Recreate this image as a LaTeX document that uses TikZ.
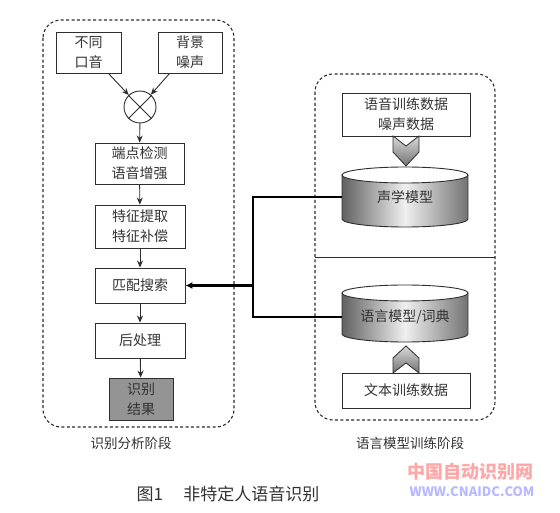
\documentclass[tikz,border=0pt]{standalone}
\usepackage{fontspec}
\setmainfont{Noto Sans CJK SC}
\usetikzlibrary{arrows.meta}
\definecolor{txt}{HTML}{333333}
\definecolor{edge}{HTML}{2E2E2E}
\tikzset{
  box/.style={draw=edge, line width=0.9pt, fill=white, align=center, inner sep=0pt,
    text=txt, font=\fontsize{14}{20}\selectfont},
  arr/.style={draw=edge, line width=0.9pt, -{Stealth[length=7pt,width=6pt]}},
  frame/.style={draw=edge, line width=1.1pt, dash pattern=on 3pt off 2.4pt, rounded corners=18pt},
  bus/.style={draw=black, line width=2.6pt},
  lab/.style={text=txt, font=\fontsize{13.5}{16}\selectfont, inner sep=0pt},
  cylbody/.style={left color=black!62, right color=black!55, middle color=black!6},
  chev/.style={draw=edge, line width=0.8pt, top color=black!15, bottom color=black!55},
  anchorbox/.style={inner sep=0pt, text=txt, font=\fontsize{14}{16}\selectfont}
}
\begin{document}
\begin{tikzpicture}[x=1pt,y=-1pt]
\useasboundingbox[fill=white] (0,0) rectangle (560,513);

% frames
\draw[frame] (43,20) rectangle (234,427);
\draw[frame] (315,74) rectangle (495,420);
\coordinate (sepL) at (315,258);
\coordinate (sepR) at (495,258);
\draw[edge, line width=1pt] (sepL) -- (sepR);

% left column
\node[box, minimum width=65pt, minimum height=41pt] (kou) at (88.5,52.5) {不同\\口音};
\node[box, minimum width=64pt, minimum height=41pt] (zao) at (190,52.5) {背景\\噪声};
\node[draw=edge, line width=0.9pt, circle, minimum size=32pt, inner sep=0pt] (mix) at (140,107) {};
\draw[edge, line width=0.9pt] (mix.north east) -- (mix.south west) (mix.north west) -- (mix.south east);
\node[box, minimum width=89pt, minimum height=41pt] (dd) at (139.5,163.5) {端点检测\\语音增强};
\node[box, minimum width=90pt, minimum height=43pt] (tz) at (140,226.5) {特征提取\\特征补偿};
\node[box, minimum width=90pt, minimum height=35pt] (pp) at (140,285.5) {匹配搜索};
\node[box, minimum width=90pt, minimum height=35pt] (hc) at (140,340.5) {后处理};
\node[box, fill=black!42, minimum width=64pt, minimum height=42pt] (jg) at (141,399) {识别\\结果};

\draw[arr] ([xshift=-13pt]kou.south east) -- (mix);
\draw[arr] ([xshift=12pt]zao.south west) -- (mix);
\draw[arr] (mix) -- (dd);
\draw[arr] (dd) -- (tz);
\draw[arr] (tz) -- (pp);
\draw[arr] (pp) -- (hc);
\draw[arr] (hc) -- (jg);

% right column
\node[box, minimum width=128pt, minimum height=43pt] (xl) at (406,114.5) {语音训练数据\\噪声数据};
\node[box, minimum width=128pt, minimum height=35pt] (wb) at (406,390.5) {文本训练数据};

% down chevron
\draw[chev] (393,136) -- (406,146) -- (419,136) -- (419,152) -- (406,166) -- (393,152) -- cycle;
% up chevron
\draw[chev] (393,373) -- (406,363) -- (419,373) -- (419,358) -- (406,346) -- (393,358) -- cycle;

% cylinder 1
\shade[cylbody] (342,175) -- (342,219) arc[start angle=180,end angle=360,x radius=63pt,y radius=8pt] -- (468,175) -- cycle;
\draw[edge, line width=0.9pt] (342,175) -- (342,219) arc[start angle=180,end angle=360,x radius=63pt,y radius=8pt] -- (468,175);
\filldraw[draw=edge, fill=white, line width=0.9pt] (405,175) ellipse[x radius=63pt, y radius=8pt];
\node[anchorbox, minimum width=126pt, minimum height=40pt] (sx) at (405,197) {声学模型};

% cylinder 2
\shade[cylbody] (342,293) -- (342,334) arc[start angle=180,end angle=360,x radius=63pt,y radius=8pt] -- (468,293) -- cycle;
\draw[edge, line width=0.9pt] (342,293) -- (342,334) arc[start angle=180,end angle=360,x radius=63pt,y radius=8pt] -- (468,293);
\filldraw[draw=edge, fill=white, line width=0.9pt] (405,293) ellipse[x radius=63pt, y radius=8pt];
\node[anchorbox, minimum width=126pt, minimum height=40pt] (yy) at (405,317) {语言模型/词典};

% bus connector
\coordinate (bt) at (253,317);
\draw[bus] (sx.west) -| (bt) -- (yy.west);
\draw[bus, -{Latex[length=7pt,width=7pt]}] (pp.east -| bt) -- (pp.east);

% labels
\node[lab] (l1) at (131,443) {识别分析阶段};
\node[lab] (l2) at (410,443) {语言模型训练阶段};
\node[text=txt, font=\fontsize{17}{19}\selectfont, inner sep=0pt] (cap) at (228,494) {图1\hspace{1.2em}非特定人语音识别};

% watermark
\node[text=red!35, font=\fontsize{18}{20}\selectfont\bfseries, inner sep=0pt] (wm1) at (470,472) {中国自动识别网};
\node[text=blue!28, font=\fontsize{13}{14}\selectfont\bfseries, inner sep=0pt] (wm2) at (472,492) {WWW.CNAIDC.COM};
\end{tikzpicture}
\end{document}
